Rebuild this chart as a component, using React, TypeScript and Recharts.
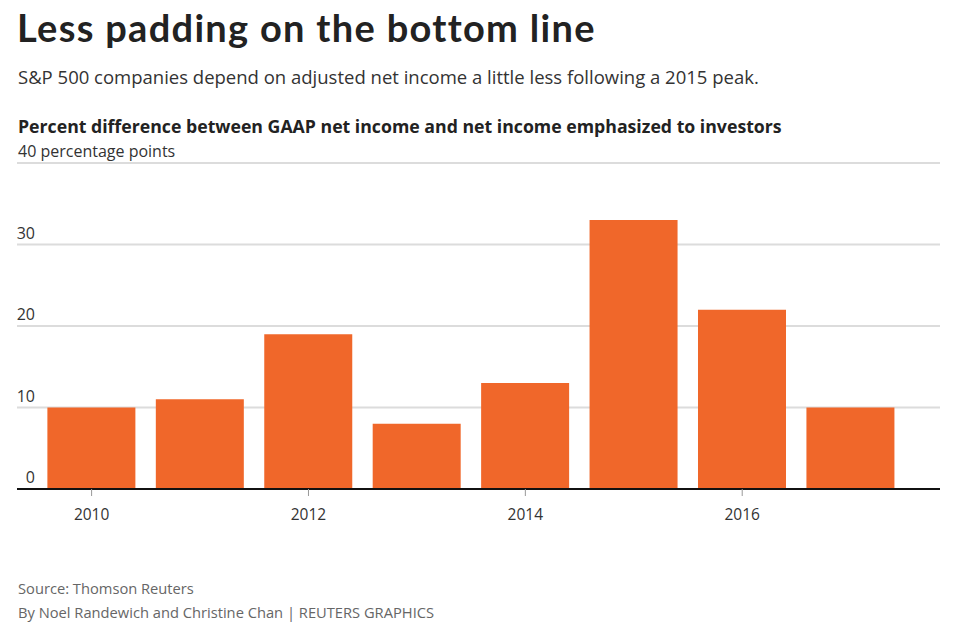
import React from "react"
import { BarChart, Bar, XAxis, YAxis, CartesianGrid } from "recharts"

const years = [2010, 2011, 2012, 2013, 2014, 2015, 2016, 2017]
const diffs = [10, 11, 19, 8, 13, 33, 22, 10]
const xTicks = [2010, 2012, 2014, 2016]
const yTicks = [0, 10, 20, 30, 40]

const data = years.map((year, i) => ({ year, diff: diffs[i] }))

const TITLE_FONT = "Lato, sans-serif"
const FONT = "'Open Sans', 'Noto Sans', sans-serif"

const YTick = (props: any) => {
  const { y, payload } = props
  if (payload.value === 40) {
    return (
      <text x={18} y={y - 6} fill="#333" fontSize={16} fontFamily={FONT} textAnchor="start">
        40 percentage points
      </text>
    )
  }
  return (
    <text x={35} y={y - 6} fill="#333" fontSize={16} fontFamily={FONT} textAnchor="end">
      {payload.value}
    </text>
  )
}

export default function App() {
  return (
    <div style={{ position: "absolute", left: 0, top: 0, width: 959, height: 631, background: "#fff" }}>
      <svg width={959} height={631} style={{ position: "absolute", left: 0, top: 0 }}>
        <text x={17} y={42} fontSize={38} fontWeight={700} fill="#222" fontFamily={TITLE_FONT} letterSpacing={1.3}>
          Less padding on the bottom line
        </text>
        <text x={18} y={84} fontSize={18.5} fill="#333" fontFamily={FONT}>
          S&amp;P 500 companies depend on adjusted net income a little less following a 2015 peak.
        </text>
        <text x={18} y={133} fontSize={17.7} fontWeight={700} fill="#222" fontFamily={FONT}>
          Percent difference between GAAP net income and net income emphasized to investors
        </text>
        <text x={18} y={594} fontSize={14.7} fill="#666" fontFamily={FONT}>
          Source: Thomson Reuters
        </text>
        <text x={18} y={618} fontSize={14.7} fill="#666" fontFamily={FONT}>
          By Noel Randewich and Christine Chan | REUTERS GRAPHICS
        </text>
      </svg>
      <div style={{ position: "absolute", left: 0, top: 0 }}>
        <BarChart
          width={959}
          height={631}
          data={data}
          margin={{ top: 163, right: 19, left: 16, bottom: 112 }}
        >
          <CartesianGrid horizontal vertical={false} stroke="#dcdcdc" strokeWidth={2} />
          <XAxis
            dataKey="year"
            type="number"
            domain={[2009.312, 2017.824]}
            allowDataOverflow
            ticks={xTicks}
            height={30}
            axisLine={{ stroke: "#111", strokeWidth: 2 }}
            tickLine={{ stroke: "#999" }}
            tickSize={7}
            tickMargin={13}
            tick={{ fill: "#333", fontSize: 15.5, fontFamily: FONT }}
          />
          <YAxis
            type="number"
            domain={[0, 40]}
            ticks={yTicks}
            interval={0}
            width={1}
            axisLine={false}
            tickLine={false}
            tick={YTick}
          />
          <Bar dataKey="diff" fill="#F0672A" barSize={88} isAnimationActive={false} />
        </BarChart>
      </div>
    </div>
  )
}
